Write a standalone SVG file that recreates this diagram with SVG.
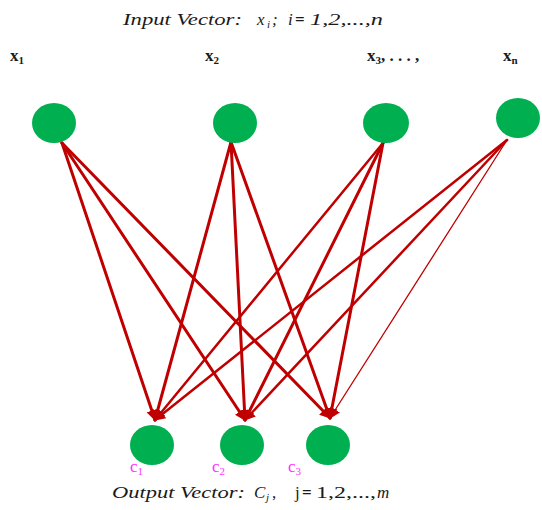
<svg xmlns="http://www.w3.org/2000/svg" width="542" height="510" viewBox="0 0 542 510">
  <style>
    .node { fill: #00b050; }
    .edge { stroke: #c00000; fill: none; stroke-linecap: round; }
    .t { font-family: "Liberation Serif", serif; font-size: 17px; fill: #1a1a1a; }
    .lbl { font-family: "Liberation Serif", serif; font-size: 17px; font-weight: bold; fill: #1a1a1a; }
    .it { font-style: italic; }
    .sub { font-size: 11px; }
    .c { font-family: "Liberation Serif", serif; font-size: 17px; fill: #ff33ff; }
  </style>
  <defs>
    <marker id="arrow" viewBox="0 0 10 10" refX="9" refY="5" markerWidth="11" markerHeight="11" markerUnits="userSpaceOnUse" orient="auto">
      <path d="M0,0 L10,5 L0,10 z" fill="#c00000"/>
    </marker>
  </defs>

  <rect width="542" height="510" fill="#ffffff"/>

  <!-- input heading -->
  <g class="t it">
    <text x="123" y="25" textLength="119" lengthAdjust="spacingAndGlyphs">Input  Vector:</text>
    <text x="257" y="25">x</text>
    <text class="sub" x="267" y="28">i</text>
    <text x="272" y="25">;</text>
    <text x="288" y="25">i</text>
    <text x="295" y="25" font-style="normal" font-weight="bold">=</text>
    <text x="310" y="25" textLength="73" lengthAdjust="spacingAndGlyphs">1,2,...,n</text>
  </g>

  <!-- output heading -->
  <g class="t">
    <text class="it" x="112" y="498" textLength="133" lengthAdjust="spacingAndGlyphs">Output  Vector:</text>
    <text class="it" x="254" y="498">C</text>
    <text class="sub it" x="266" y="501">j</text>
    <text x="272" y="498">,</text>
    <text x="295" y="498">j</text>
    <text x="302" y="498" font-weight="bold">=</text>
    <text x="316" y="498" textLength="60" lengthAdjust="spacingAndGlyphs">1,2,...,</text>
    <text class="it" x="377" y="498">m</text>
  </g>

  <!-- input labels -->
  <text class="lbl" x="10" y="61">x<tspan class="sub" dy="3">1</tspan></text>
  <text class="lbl" x="205" y="61">x<tspan class="sub" dy="3">2</tspan></text>
  <text class="lbl" x="367" y="61">x<tspan class="sub" dy="3">3</tspan><tspan dy="-3">, . . . ,</tspan></text>
  <text class="lbl" x="503" y="61">x<tspan class="sub" dy="3">n</tspan></text>

  <!-- connectors -->
  <g id="connectors" marker-end="url(#arrow)">
    <line class="edge" x1="62" y1="143" x2="155" y2="420" stroke-width="3"/>
    <line class="edge" x1="62" y1="143" x2="245" y2="420" stroke-width="3"/>
    <line class="edge" x1="62" y1="143" x2="330" y2="418" stroke-width="3"/>
    <line class="edge" x1="231" y1="142" x2="155" y2="420" stroke-width="3"/>
    <line class="edge" x1="231" y1="142" x2="245" y2="420" stroke-width="3"/>
    <line class="edge" x1="231" y1="142" x2="330" y2="418" stroke-width="3"/>
    <line class="edge" x1="383" y1="143" x2="155" y2="420" stroke-width="2.5"/>
    <line class="edge" x1="383" y1="143" x2="245" y2="420" stroke-width="3"/>
    <line class="edge" x1="383" y1="143" x2="330" y2="418" stroke-width="3"/>
    <line class="edge" x1="507" y1="140" x2="155" y2="420" stroke-width="2.5"/>
    <line class="edge" x1="507" y1="140" x2="245" y2="420" stroke-width="2.5"/>
    <line class="edge" x1="507" y1="140" x2="330" y2="418" stroke-width="1.3"/>
  </g>

  <!-- input nodes -->
  <g id="x1"><ellipse class="node" cx="54" cy="123" rx="22" ry="20"/></g>
  <g id="x2"><ellipse class="node" cx="235" cy="123" rx="22" ry="20"/></g>
  <g id="x3"><ellipse class="node" cx="386" cy="123" rx="23" ry="20"/></g>
  <g id="xn"><ellipse class="node" cx="518" cy="118" rx="22" ry="20"/></g>

  <!-- output nodes -->
  <g id="c1"><ellipse class="node" cx="152" cy="445" rx="22" ry="20"/><text class="c" x="130" y="472">c<tspan class="sub" dy="3">1</tspan></text></g>
  <g id="c2"><ellipse class="node" cx="242" cy="445" rx="22" ry="20"/><text class="c" x="212" y="472">c<tspan class="sub" dy="3">2</tspan></text></g>
  <g id="c3"><ellipse class="node" cx="328" cy="445" rx="22" ry="20"/><text class="c" x="288" y="472">c<tspan class="sub" dy="3">3</tspan></text></g>
</svg>
